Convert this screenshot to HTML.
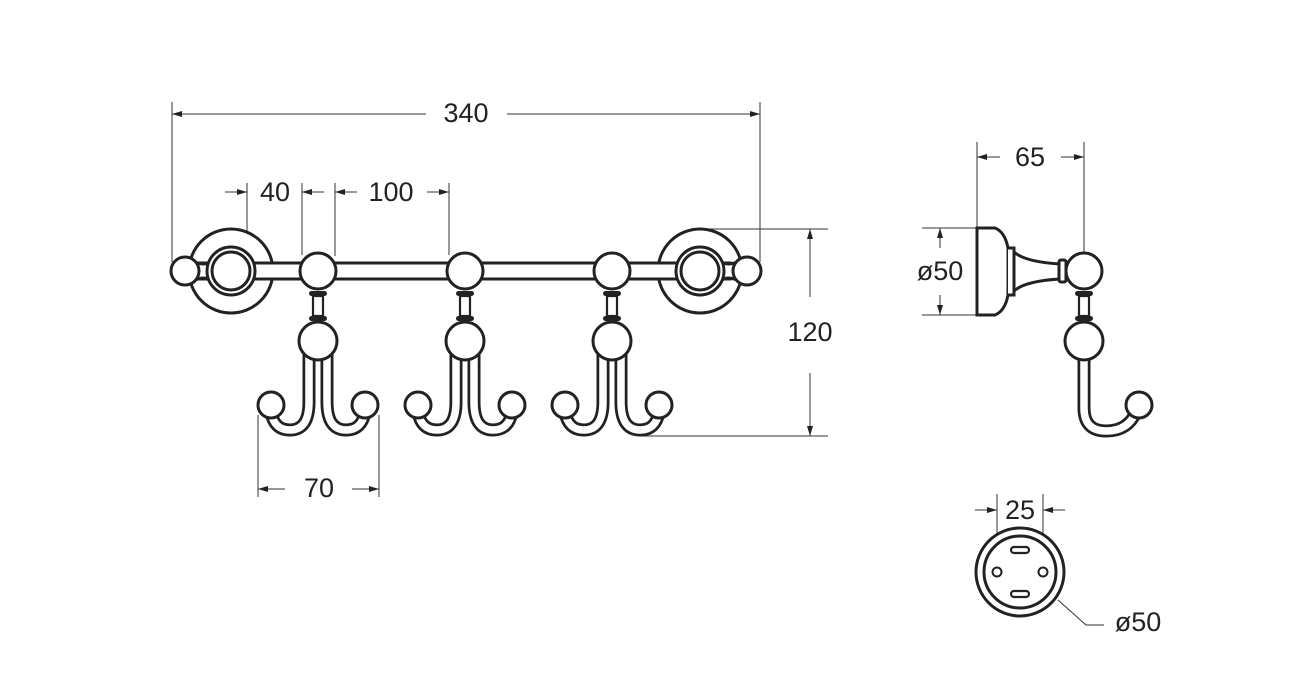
<!DOCTYPE html>
<html><head><style>html,body{margin:0;padding:0;background:#fff;}svg{display:block}</style></head>
<body>
<svg width="1300" height="693" viewBox="0 0 1300 693" xmlns="http://www.w3.org/2000/svg">
<defs>
<marker id="a" viewBox="0 0 10 6" refX="10" refY="3" markerWidth="10" markerHeight="6" orient="auto-start-reverse" markerUnits="userSpaceOnUse"><path d="M0,0 L10,3 L0,6 z" fill="#222"/></marker>
<g id="hook">
  <rect x="-9" y="291" width="18" height="5" rx="2.5" fill="#222"/>
  <rect x="-9" y="316" width="18" height="5" rx="2.5" fill="#222"/>
  <rect x="-5" y="296" width="10" height="20" fill="#fff" stroke="#222" stroke-width="2.2"/>
  <path d="M-9 350 L-9 402 Q-9 430 -28 430 Q-44 430 -47 412 M9 350 L9 402 Q9 430 28 430 Q44 430 47 412" fill="none" stroke="#222" stroke-width="13" stroke-linecap="round"/>
  <path d="M-9 350 L-9 402 Q-9 430 -28 430 Q-44 430 -47 412 M9 350 L9 402 Q9 430 28 430 Q44 430 47 412" fill="none" stroke="#fff" stroke-width="7.5" stroke-linecap="round"/>
  <circle cx="0" cy="341" r="19" fill="#fff" stroke="#222" stroke-width="3"/>
  <circle cx="-47" cy="405" r="13" fill="#fff" stroke="#222" stroke-width="3"/>
  <circle cx="47" cy="405" r="13" fill="#fff" stroke="#222" stroke-width="3"/>
  <circle cx="0" cy="271" r="18" fill="#fff" stroke="#222" stroke-width="3"/>
</g>
</defs>
<g font-family="Liberation Sans, sans-serif" font-size="27" fill="#222" text-anchor="middle">
<g stroke="#333" stroke-width="1" fill="none">
  <line x1="172" y1="102" x2="172" y2="262"/>
  <line x1="760" y1="102" x2="760" y2="262"/>
  <line x1="172" y1="114" x2="426" y2="114" marker-start="url(#a)"/>
  <line x1="507" y1="114" x2="760" y2="114" marker-end="url(#a)"/>
  <line x1="247" y1="183" x2="247" y2="250"/>
  <line x1="302" y1="183" x2="302" y2="255"/>
  <line x1="335" y1="183" x2="335" y2="256"/>
  <line x1="449" y1="183" x2="449" y2="255"/>
  <line x1="225" y1="192" x2="247" y2="192" marker-end="url(#a)"/>
  <line x1="324" y1="192" x2="302" y2="192" marker-end="url(#a)"/>
  <line x1="357" y1="192" x2="335" y2="192" marker-end="url(#a)"/>
  <line x1="427" y1="192" x2="449" y2="192" marker-end="url(#a)"/>
  <line x1="700" y1="229" x2="828" y2="229"/>
  <line x1="640" y1="436" x2="828" y2="436"/>
  <line x1="810" y1="297" x2="810" y2="229" marker-end="url(#a)"/>
  <line x1="810" y1="373" x2="810" y2="436" marker-end="url(#a)"/>
  <line x1="258" y1="415" x2="258" y2="497"/>
  <line x1="379" y1="415" x2="379" y2="497"/>
  <line x1="285" y1="489" x2="258" y2="489" marker-end="url(#a)"/>
  <line x1="352" y1="489" x2="379" y2="489" marker-end="url(#a)"/>
  <line x1="977" y1="142" x2="977" y2="228"/>
  <line x1="1084" y1="142" x2="1084" y2="253"/>
  <line x1="1000" y1="157" x2="977" y2="157" marker-end="url(#a)"/>
  <line x1="1061" y1="157" x2="1084" y2="157" marker-end="url(#a)"/>
  <line x1="922" y1="228" x2="977" y2="228"/>
  <line x1="922" y1="315" x2="977" y2="315"/>
  <line x1="940" y1="248" x2="940" y2="228" marker-end="url(#a)"/>
  <line x1="940" y1="295" x2="940" y2="315" marker-end="url(#a)"/>
  <line x1="997" y1="494" x2="997" y2="572"/>
  <line x1="1043" y1="494" x2="1043" y2="572"/>
  <line x1="975" y1="510" x2="997" y2="510" marker-end="url(#a)"/>
  <line x1="1065" y1="510" x2="1043" y2="510" marker-end="url(#a)"/>
  <polyline points="1058,600 1086,625 1104,625"/>
</g>
<text x="466" y="122">340</text>
<text x="275" y="201">40</text>
<text x="391" y="201">100</text>
<text x="810" y="341">120</text>
<text x="319" y="497">70</text>
<text x="1030" y="166">65</text>
<text x="940" y="280">ø50</text>
<text x="1020" y="519">25</text>
<text x="1138" y="631">ø50</text>
</g>

<g stroke="#222" stroke-width="3" fill="#fff">
  <circle cx="231" cy="271" r="42"/>
  <circle cx="700" cy="271" r="42"/>
  <rect x="200" y="263" width="530" height="16"/>
  <path d="M195 262 Q205 266 210 262 L210 280 Q205 276 195 280 z"/>
  <path d="M737 262 Q727 266 722 262 L722 280 Q727 276 737 280 z"/>
  <circle cx="185" cy="271" r="14"/>
  <circle cx="747" cy="271" r="14"/>
  <circle cx="231" cy="271" r="24"/>
  <circle cx="231" cy="271" r="19"/>
  <circle cx="700" cy="271" r="24"/>
  <circle cx="700" cy="271" r="19"/>
</g>
<use href="#hook" x="318"/>
<use href="#hook" x="465"/>
<use href="#hook" x="612"/>

<g stroke="#222" stroke-width="3" fill="#fff">
  <path d="M1084 350 L1084 408 Q1084 431 1106 431 Q1128 431 1136 412" fill="none" stroke-width="13" stroke-linecap="round"/>
  <path d="M1084 350 L1084 408 Q1084 431 1106 431 Q1128 431 1136 412" fill="none" stroke="#fff" stroke-width="7.5" stroke-linecap="round"/>
  <path d="M977 228 L995 228 Q1005 232 1008 248 L1008 295 Q1005 311 995 315 L977 315 z"/>
  <path d="M1008 248 L1014 248 L1014 295 L1008 295" />
  <path d="M1014 252 Q1025 262 1060 264 L1060 279 Q1025 281 1014 291 z"/>
  <rect x="1059" y="260" width="7" height="22" rx="2"/>
  <rect x="1075" y="291" width="18" height="5" rx="2.5" fill="#222" stroke="none"/>
  <rect x="1075" y="316" width="18" height="5" rx="2.5" fill="#222" stroke="none"/>
  <rect x="1079" y="296" width="10" height="20" stroke-width="2.2"/>
  <circle cx="1084" cy="271" r="18"/>
  <circle cx="1084" cy="341" r="19"/>
  <circle cx="1139" cy="405" r="13"/>
</g>
<g stroke="#222" stroke-width="3" fill="#fff">
  <circle cx="1020" cy="572" r="44"/>
  <circle cx="1020" cy="572" r="36"/>
  <circle cx="997" cy="572" r="4.5" stroke-width="2"/>
  <circle cx="1043" cy="572" r="4.5" stroke-width="2"/>
  <rect x="1011" y="547" width="18" height="6" rx="3" stroke-width="2.2"/>
  <rect x="1011" y="591" width="18" height="6" rx="3" stroke-width="2.2"/>
</g>
</svg>
</body></html>
